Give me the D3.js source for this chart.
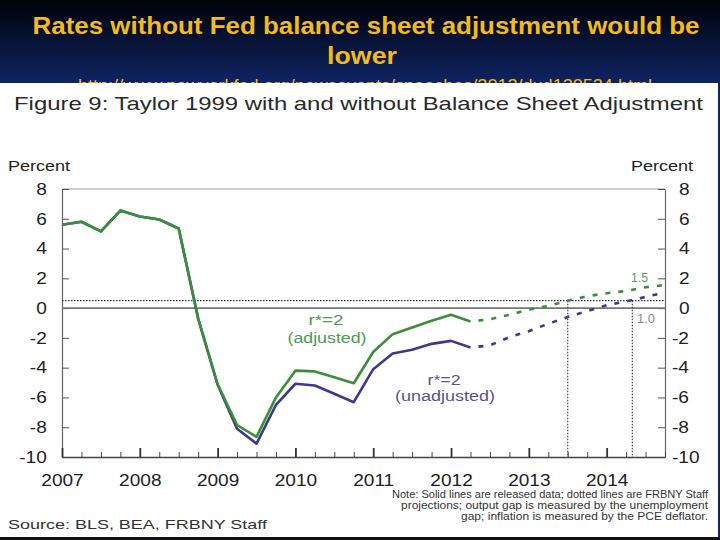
<!DOCTYPE html>
<html><head><meta charset="utf-8">
<script src="https://cdn.jsdelivr.net/npm/d3@7"></script>
<style>html,body{margin:0;padding:0;background:#000;}svg{display:block;}</style>
</head><body>
<script>
// ---- data ----
const titleLines = ["Rates without Fed balance sheet adjustment would be", "lower"];
const urlText = "http://www.newyorkfed.org/newsevents/speeches/2012/dud120524.html";
const figTitle = "Figure 9: Taylor 1999 with and without Balance Sheet Adjustment";
const yTicks = [-10, -8, -6, -4, -2, 0, 2, 4, 6, 8];
const yearLabels = ["2007", "2008", "2009", "2010", "2011", "2012", "2013", "2014"];
const minorTicks = ["2007Q2","2007Q3","2007Q4","2008Q2","2008Q3","2008Q4","2009Q2","2009Q3","2009Q4",
  "2010Q2","2010Q3","2010Q4","2011Q2","2011Q3","2011Q4","2012Q2","2012Q3","2012Q4",
  "2013Q2","2013Q3","2013Q4","2014Q2","2014Q3","2014Q4"];
const releasedDates = ["2007Q1","2007Q2","2007Q3","2007Q4","2008Q1","2008Q2","2008Q3","2008Q4",
  "2009Q1","2009Q2","2009Q3","2009Q4","2010Q1","2010Q2","2010Q3","2010Q4",
  "2011Q1","2011Q2","2011Q3","2011Q4","2012Q1","2012Q2"];
const adjustedReleased = [5.6, 5.8, 5.15, 6.55, 6.15, 5.95, 5.35, -0.7,
  -5.1, -7.85, -8.65, -6.0, -4.2, -4.25, -4.65, -5.05,
  -2.95, -1.75, -1.3, -0.85, -0.45, -0.9];
const unadjustedReleased = [5.6, 5.8, 5.15, 6.55, 6.15, 5.95, 5.35, -0.7,
  -5.15, -8.1, -9.1, -6.5, -5.08, -5.2, -5.75, -6.32,
  -4.1, -3.05, -2.8, -2.4, -2.2, -2.65];
const projDates = ["2012Q2","2012Q3","2012Q4","2013Q1","2013Q2","2013Q3","2013Q4","2014Q1","2014Q2","2014Q3","2014Q4"];
const adjustedProj = [-0.9, -0.75, -0.45, -0.1, 0.15, 0.5, 0.8, 1.0, 1.15, 1.4, 1.55];
const unadjustedProj = [-2.65, -2.5, -1.95, -1.55, -1.05, -0.6, -0.2, 0.2, 0.45, 0.75, 1.05];
const thresholdLevel = 0.5;
const crossDates = ["2013Q3", "2014.33"];
const endLabels = ["1.5", "1.0"];
const noteLines = ["Note: Solid lines are released data; dotted lines are FRBNY Staff",
  "projections; output gap is measured by the unemployment",
  "gap; inflation is measured by the PCE deflator."];
const sourceText = "Source: BLS, BEA, FRBNY Staff";

// ---- helpers ----
function parseQ(s) {
  if (s.indexOf("Q") < 0) return +s;
  const [y, q] = s.split("Q");
  return +y + (+q - 1) / 4;
}
const W = 720, H = 540;
const FONT = "'Liberation Sans', Arial, sans-serif";
const GREEN = "#3b8f3b", BLUE = "#3c3a8c";

const svg = d3.select("body").append("svg").attr("width", W).attr("height", H);
const defs = svg.append("defs");
const grad = defs.append("linearGradient").attr("id", "bg").attr("x1", 0).attr("y1", 0).attr("x2", 0).attr("y2", 1);
grad.append("stop").attr("offset", "0%").attr("stop-color", "#00020a");
grad.append("stop").attr("offset", "100%").attr("stop-color", "#0f276a");
svg.append("rect").attr("width", W).attr("height", 90).attr("fill", "url(#bg)");
svg.append("rect").attr("y", 88).attr("width", W).attr("height", H - 88).attr("fill", "#0f276a");

// Title
svg.append("text").attr("x", 366).attr("y", 34).attr("text-anchor", "middle")
  .attr("font-family", FONT).attr("font-weight", "bold").attr("font-size", 24)
  .attr("fill", "#f2bb1b").attr("textLength", 667).attr("lengthAdjust", "spacingAndGlyphs")
  .text(titleLines[0]);
svg.append("text").attr("x", 362).attr("y", 64).attr("text-anchor", "middle")
  .attr("font-family", FONT).attr("font-weight", "bold").attr("font-size", 24)
  .attr("fill", "#f2bb1b").attr("textLength", 70).attr("lengthAdjust", "spacingAndGlyphs")
  .text(titleLines[1]);
svg.append("text").attr("x", 365).attr("y", 91).attr("text-anchor", "middle")
  .attr("font-family", FONT).attr("font-size", 16)
  .attr("fill", "#f2bb1b").attr("textLength", 574).attr("lengthAdjust", "spacingAndGlyphs")
  .text(urlText);

// White figure panel
svg.append("rect").attr("x", 0).attr("y", 83).attr("width", 718).attr("height", 454).attr("fill", "#fff");
svg.append("rect").attr("x", 0).attr("y", 537).attr("width", W).attr("height", 3).attr("fill", "#111");

svg.append("text").attr("x", 14).attr("y", 110)
  .attr("font-family", FONT).attr("font-size", 19).attr("fill", "#2a2a2a")
  .attr("textLength", 689).attr("lengthAdjust", "spacingAndGlyphs")
  .text(figTitle);

// ---- chart ----
const x = d3.scaleLinear().domain([2007, 2014.75]).range([62, 665]);
const y = d3.scaleLinear().domain([-10, 8]).range([457, 189]);
const SX = 1.17, TFS = 16.3;

// Plot frame top
svg.append("line").attr("x1", x(2007)).attr("x2", x(2014.75)).attr("y1", y(8)).attr("y2", y(8))
  .attr("stroke", "#9a9a9a").attr("stroke-width", 1);

// Left axis
const gl = svg.append("g").attr("transform", `translate(${x(2007)},0)`)
  .call(d3.axisLeft(y).tickValues(yTicks).tickSizeInner(-7).tickSizeOuter(0).tickPadding(13).tickFormat(d3.format("d")));
gl.select(".domain").attr("stroke", "#666").attr("stroke-width", 1.2);
gl.selectAll(".tick line").attr("stroke", "#555");
gl.selectAll(".tick text").attr("font-family", FONT).attr("font-size", TFS).attr("fill", "#222")
  .attr("transform", `scale(${SX},1)`).text(d => d < 0 ? "-" + Math.abs(d) : d);

// Right axis
const gr = svg.append("g").attr("transform", `translate(${x(2014.75)},0)`)
  .call(d3.axisRight(y).tickValues(yTicks).tickSizeInner(-7).tickSizeOuter(0).tickPadding(6).tickFormat(d3.format("d")));
gr.select(".domain").attr("stroke", "#666").attr("stroke-width", 1.2);
gr.selectAll(".tick line").attr("stroke", "#555");
gr.selectAll(".tick text").attr("font-family", FONT).attr("font-size", TFS).attr("fill", "#222")
  .attr("transform", `scale(${SX},1)`).attr("dx", d => d < 0 ? 0 : 6)
  .text(d => d < 0 ? "-" + Math.abs(d) : d);

// Bottom axis: minor ticks
const gm = svg.append("g").attr("transform", `translate(0,${y(-10)})`)
  .call(d3.axisBottom(x).tickValues(minorTicks.map(parseQ)).tickSizeInner(-5).tickSizeOuter(0).tickFormat(""));
gm.select(".domain").attr("stroke", "#444").attr("stroke-width", 1.5);
gm.selectAll(".tick line").attr("stroke", "#444");
// Bottom axis: major ticks + year labels
const gb = svg.append("g").attr("transform", `translate(0,${y(-10)})`)
  .call(d3.axisBottom(x).tickValues(yearLabels.map(Number)).tickSizeInner(-9).tickSizeOuter(0).tickPadding(17).tickFormat(d => String(d)));
gb.select(".domain").remove();
gb.selectAll(".tick line").attr("stroke", "#333").attr("stroke-width", 1.8);
gb.selectAll(".tick text").attr("font-family", FONT).attr("font-size", TFS).attr("fill", "#222")
  .attr("transform", `scale(${SX},1)`).attr("x", function (d) { return 0; });
// make x-scaling around tick center: text already centered at 0 in tick group

// "Percent" labels
svg.append("text").attr("x", 8).attr("y", 171).attr("font-family", FONT).attr("font-size", 14)
  .attr("fill", "#222").attr("textLength", 62).attr("lengthAdjust", "spacingAndGlyphs").text("Percent");
svg.append("text").attr("x", 631).attr("y", 171).attr("font-family", FONT).attr("font-size", 14)
  .attr("fill", "#222").attr("textLength", 62).attr("lengthAdjust", "spacingAndGlyphs").text("Percent");

// Zero line
svg.append("line").attr("x1", x(2007)).attr("x2", x(2014.75)).attr("y1", y(0)).attr("y2", y(0))
  .attr("stroke", "#777").attr("stroke-width", 1.6);
// Dotted 0.5 line
svg.append("line").attr("x1", x(2007)).attr("x2", x(2014.75)).attr("y1", y(thresholdLevel)).attr("y2", y(thresholdLevel))
  .attr("stroke", "#333").attr("stroke-width", 1.1).attr("stroke-dasharray", "1.5,1.5");
// Vertical dotted markers
svg.selectAll("line.vmark").data(crossDates).enter().append("line").attr("class", "vmark")
  .attr("x1", d => x(parseQ(d))).attr("x2", d => x(parseQ(d)))
  .attr("y1", y(thresholdLevel)).attr("y2", y(-10))
  .attr("stroke", "#333").attr("stroke-width", 1.1).attr("stroke-dasharray", "1.5,1.5");

const line = d3.line().x(d => x(d[0])).y(d => y(d[1]));
function pairs(dates, vals) { return dates.map((d, i) => [parseQ(d), vals[i]]); }

// Released (solid)
svg.append("path").datum(pairs(releasedDates, unadjustedReleased)).attr("d", line)
  .attr("fill", "none").attr("stroke", BLUE).attr("stroke-width", 2.6).attr("stroke-linejoin", "round");
svg.append("path").datum(pairs(releasedDates, adjustedReleased)).attr("d", line)
  .attr("fill", "none").attr("stroke", GREEN).attr("stroke-width", 2.6).attr("stroke-linejoin", "round");
// Projections (dashed)
svg.append("path").datum(pairs(projDates, unadjustedProj)).attr("d", line)
  .attr("fill", "none").attr("stroke", BLUE).attr("stroke-width", 2.6)
  .attr("stroke-dasharray", "5,8").attr("stroke-dashoffset", 5);
svg.append("path").datum(pairs(projDates, adjustedProj)).attr("d", line)
  .attr("fill", "none").attr("stroke", GREEN).attr("stroke-width", 2.6)
  .attr("stroke-dasharray", "5,8").attr("stroke-dashoffset", 5);

// End value labels
svg.append("text").attr("x", 648).attr("y", 282).attr("text-anchor", "end").attr("font-family", FONT)
  .attr("font-size", 12).attr("fill", "#5a9a5a").attr("textLength", 17).attr("lengthAdjust", "spacingAndGlyphs").text(endLabels[0]);
svg.append("text").attr("x", 655).attr("y", 323).attr("text-anchor", "end").attr("font-family", FONT)
  .attr("font-size", 12).attr("fill", "#8a8a8a").attr("textLength", 18).attr("lengthAdjust", "spacingAndGlyphs").text(endLabels[1]);

// Series labels
function lbl(t, cx, by, w, col) {
  svg.append("text").attr("x", cx - w / 2).attr("y", by).attr("font-family", FONT).attr("font-size", 14)
    .attr("fill", col).attr("textLength", w).attr("lengthAdjust", "spacingAndGlyphs").text(t);
}
lbl("r*=2", 326, 325, 35, "#4e9a4e");
lbl("(adjusted)", 327, 343, 79, "#4e9a4e");
lbl("r*=2", 444, 385, 33, "#555592");
lbl("(unadjusted)", 445, 401, 100, "#555592");

// Note lines
const noteY = [498, 509, 520];
noteLines.forEach((t, i) => {
  const starts = [392, 401, 461];
  svg.append("text").attr("x", starts[i]).attr("y", noteY[i]).attr("font-family", FONT).attr("font-size", 10)
    .attr("fill", "#333").attr("textLength", 708 - starts[i]).attr("lengthAdjust", "spacingAndGlyphs").text(t);
});
// Source
svg.append("text").attr("x", 8).attr("y", 529).attr("font-family", FONT).attr("font-size", 13.5)
  .attr("fill", "#333").attr("textLength", 259).attr("lengthAdjust", "spacingAndGlyphs").text(sourceText);
</script>
</body></html>
